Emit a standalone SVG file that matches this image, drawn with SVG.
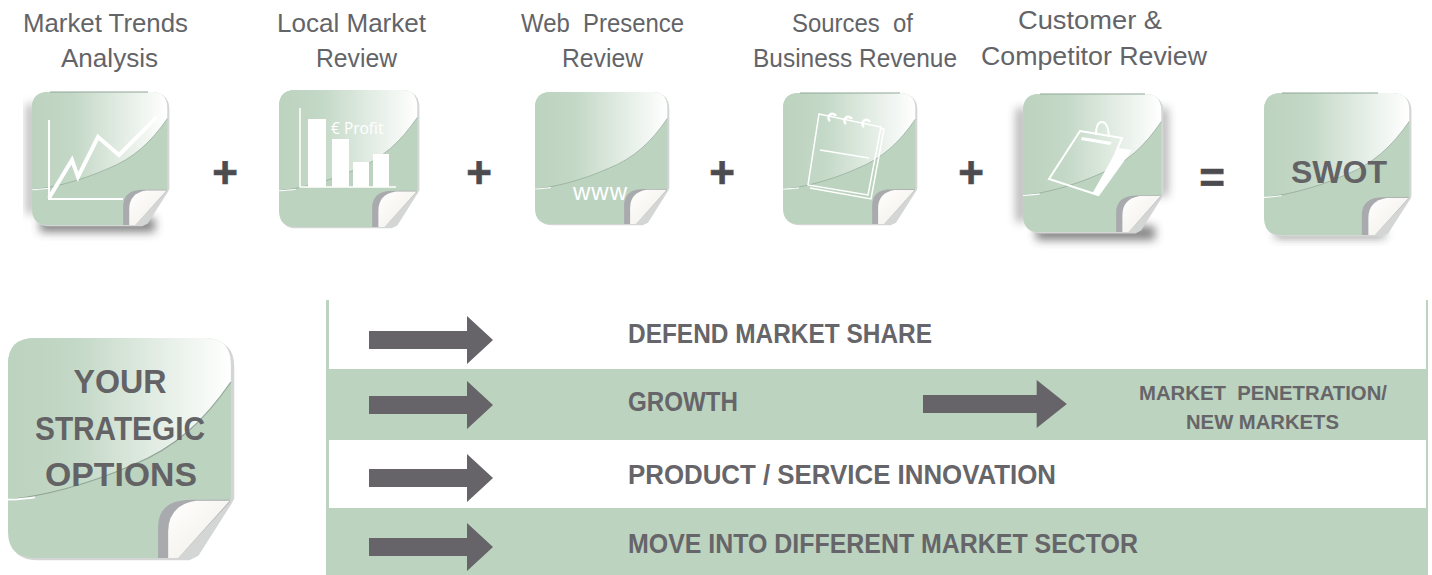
<svg xmlns="http://www.w3.org/2000/svg" width="1432" height="575" viewBox="0 0 1432 575">
<style>
.lab{font:26px "Liberation Sans",Arial,sans-serif;fill:#636468;white-space:pre}
.op{font:bold 44px "Liberation Sans",Arial,sans-serif;fill:#4c4b4f;stroke:#4c4b4f;stroke-width:.6;text-anchor:middle}
.big{font-family:"Liberation Sans",Arial,sans-serif;font-weight:bold;fill:#636265;text-anchor:middle}
.row{font:bold 27px "Liberation Sans",Arial,sans-serif;fill:#666569}
.sub{font:bold 21px "Liberation Sans",Arial,sans-serif;fill:#666569;white-space:pre}
.ic{fill:none;stroke:#fff}
.wt{fill:#fff}
.tl{fill:none;stroke:#8ea595;stroke-width:1}
</style>
<defs>
<linearGradient id="gl" x1="0" x2="1" y1="0" y2="0"><stop offset="0" stop-color="#bcd3bf"/><stop offset=".3" stop-color="#c3d8c6"/><stop offset="1" stop-color="#fff"/></linearGradient>
<linearGradient id="pg" x1="0" y1="0" x2="1" y2="1"><stop offset="0" stop-color="#fff"/><stop offset=".6" stop-color="#f6f4ef"/><stop offset="1" stop-color="#d9d5cb"/></linearGradient>
<filter id="bl" x="-30%" y="-100%" width="160%" height="300%"><feGaussianBlur stdDeviation="5"/></filter>
<g id="st">
<path d="M12 0H88Q100 0 100 12V72L99 74L84 98L80 100H12Q0 100 0 88V12Q0 0 12 0Z" fill="#d4d6d5" transform="translate(1 1)"/>
<path d="M12 0H88Q99.500 0 99.500 12V73.500H99L73 100H12Q0 100 0 88V12Q0 0 12 0Z" fill="#bcd3bf"/>
<path d="M12 0H88Q99.500 0 99.500 12V20C88 37 75 50 55 58C35 67 15 72 0 73.500V12Q0 0 12 0Z" fill="url(#gl)"/>
<path d="M0 73.500C15 72 35 67 55 58C75 50 88 37 99.500 20" fill="none" stroke="#8fa596" stroke-width=".5"/>
<path d="M0 73.500C5 73.200 8 73 12 72.400" fill="none" stroke="#fff" stroke-width=".8"/>
<path d="M67 100V86Q67 73.500 82 73.500H99V74.500L76 100Z" fill="#a9aaae"/>
<path d="M99 74H84Q71.500 76 71.500 88V100H76L99 74Z" fill="url(#pg)"/>
</g>
<path id="ar" d="M0-9H98V-24L124 0L98 24V9H0Z" fill="#666468"/>
</defs>

<g id="labels">
<text class="lab" x="23" y="32" textLength="165" lengthAdjust="spacingAndGlyphs">Market Trends</text>
<text class="lab" x="61" y="67" textLength="97" lengthAdjust="spacingAndGlyphs">Analysis</text>
<text class="lab" x="277" y="32" textLength="149" lengthAdjust="spacingAndGlyphs">Local Market</text>
<text class="lab" x="316" y="67" textLength="81" lengthAdjust="spacingAndGlyphs">Review</text>
<text class="lab" x="521" y="32" textLength="163" lengthAdjust="spacingAndGlyphs">Web  Presence</text>
<text class="lab" x="562" y="67" textLength="81" lengthAdjust="spacingAndGlyphs">Review</text>
<text class="lab" x="792" y="32" textLength="121" lengthAdjust="spacingAndGlyphs">Sources  of</text>
<text class="lab" x="753" y="67" textLength="204" lengthAdjust="spacingAndGlyphs">Business Revenue</text>
<text class="lab" x="1018" y="29" textLength="144" lengthAdjust="spacingAndGlyphs">Customer &amp;</text>
<text class="lab" x="981" y="65" textLength="226" lengthAdjust="spacingAndGlyphs">Competitor Review</text>
</g>

<g id="ops">
<text class="op" x="225" y="188">+</text><text class="op" x="479" y="188">+</text><text class="op" x="722" y="188">+</text><text class="op" x="971" y="188">+</text><text class="op" x="1212" y="193">=</text>
</g>

<g id="node-market-trends">
<path d="M40 218H155V232H40Z" fill="#333" opacity=".6" filter="url(#bl)"/>
<path d="M26 104H36V214H26Z" fill="#555" opacity=".4" filter="url(#bl)"/>
<use href="#st" transform="translate(32 92) scale(1.36 1.33)"/>
<path class="tl" d="M50 92H148"/>
<path class="ic" stroke-width="2" d="M49 120V199H123"/>
<path class="ic" stroke-width="4" d="M49 198L72 160L78 177L98 137L119 155L157 117"/>
</g>

<g id="node-local-market">
<use href="#st" transform="translate(279 90) scale(1.39 1.37)"/>
<path class="ic" stroke-width="1.500" d="M300 108V187H396"/>
<path class="wt" d="M308 119H326V187H308ZM332 139H349V187H332ZM353 162H369V187H353ZM373 154H389V187H373Z"/>
<text x="331" y="134" font-family="'Open Sans',sans-serif" font-size="15.500" fill="#fff">€ Profit</text>
</g>

<g id="node-web-presence">
<use href="#st" transform="translate(535 92) scale(1.33 1.32)"/>
<text x="573" y="200" font-family="'Liberation Sans',sans-serif" font-size="24" fill="#fff" textLength="54">www</text>
</g>

<g id="node-business-revenue">
<use href="#st" transform="translate(783 93) scale(1.33 1.31)"/>
<path class="tl" d="M800 93H900"/>
<path class="ic" stroke-width="1.500" d="M819 114L881 127L868 195L808 185ZM881 129L884 129L871 199L810 188M820 150L869 158"/>
<g fill="none" stroke="#fff" stroke-width="2.500"><path d="M830 121A4 4 0 1 1 836 116"/><path d="M846 124A4 4 0 1 1 852 119"/><path d="M864 127A4 4 0 1 1 870 122"/></g>
</g>

<g id="node-competitor">
<path d="M1036 226H1155V240H1036Z" fill="#333" opacity=".6" filter="url(#bl)"/>
<path d="M1016 108H1026V222H1016ZM1158 108H1168V196H1158Z" fill="#555" opacity=".45" filter="url(#bl)"/>
<use href="#st" transform="translate(1023 94) scale(1.39 1.38)"/>
<path class="tl" d="M1040 94H1145"/>
<path class="wt" d="M1118 148L1132 150L1099 196L1092 194Z"/>
<path class="ic" stroke-width="2" d="M1080 131L1122 138L1098 195L1049 179Z"/>
<path class="wt" d="M1082 137L1112 142L1110 145L1081 140Z"/>
<path class="ic" stroke-width="2" d="M1096 135Q1096 122 1102 122Q1108 122 1109 137"/>
</g>

<g id="node-swot">
<path d="M1275 230H1385V238H1275Z" fill="#333" opacity=".5" filter="url(#bl)"/>
<use href="#st" transform="translate(1264 93) scale(1.46 1.42)"/>
<path class="tl" d="M1282 93H1378"/>
<text class="big" x="1339" y="183" font-size="32">SWOT</text>
</g>

<g id="node-strategic-options">
<use href="#st" transform="translate(8 338) scale(2.24 2.2)"/>
<text class="big" x="120" y="393" font-size="34" textLength="93" lengthAdjust="spacingAndGlyphs">YOUR</text>
<text class="big" x="120" y="440" font-size="34" textLength="170" lengthAdjust="spacingAndGlyphs">STRATEGIC</text>
<text class="big" x="121" y="486" font-size="34" textLength="152" lengthAdjust="spacingAndGlyphs">OPTIONS</text>
</g>

<g id="table">
<path d="M326 300H329V369H326ZM1426 300H1428V369H1426ZM326 440H329V508H326ZM1426 440H1428V508H1426Z" fill="#bcd3bf"/>
<path d="M326 369H1428V440H326ZM326 508H1428V575H326Z" fill="#bcd3bf"/>
<text class="row" x="628" y="343" textLength="304" lengthAdjust="spacingAndGlyphs">DEFEND MARKET SHARE</text>
<text class="row" x="628" y="411" textLength="110" lengthAdjust="spacingAndGlyphs">GROWTH</text>
<text class="row" x="628" y="484" textLength="428" lengthAdjust="spacingAndGlyphs">PRODUCT / SERVICE INNOVATION</text>
<text class="row" x="628" y="553" textLength="510" lengthAdjust="spacingAndGlyphs">MOVE INTO DIFFERENT MARKET SECTOR</text>
<text class="sub" x="1139" y="400" textLength="248" lengthAdjust="spacingAndGlyphs">MARKET  PENETRATION/</text>
<text class="sub" x="1186" y="429" textLength="153" lengthAdjust="spacingAndGlyphs">NEW MARKETS</text>
</g>

<g id="connectors">
<use href="#ar" transform="translate(369 340)"/>
<use href="#ar" transform="translate(369 405)"/>
<use href="#ar" transform="translate(369 478)"/>
<use href="#ar" transform="translate(369 547)"/>
<use href="#ar" transform="translate(923 404) scale(1.16 1)"/>
</g>
</svg>
